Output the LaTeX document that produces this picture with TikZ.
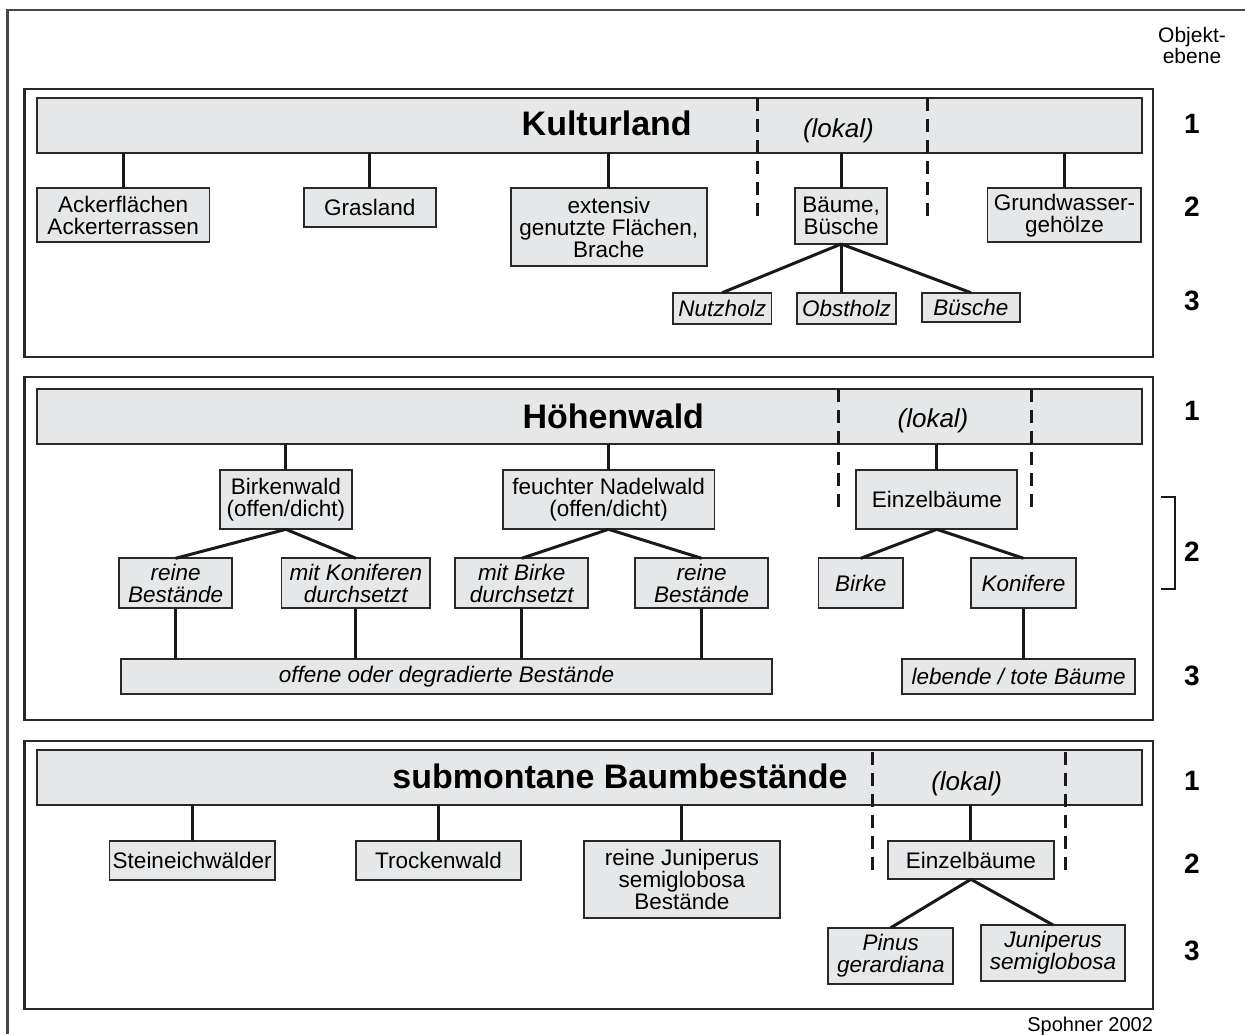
\documentclass[tikz,border=0pt]{standalone}
\usepackage{fontspec}
\setmainfont{Liberation Sans}
\definecolor{boxfill}{RGB}{230,231,232}
\definecolor{linegray}{RGB}{40,40,40}
\definecolor{framegray}{RGB}{70,70,70}
\definecolor{linkcol}{RGB}{25,25,25}
% box given by its corners: name, x1, y1, x2, y2, style, text
\newcommand\bx[7]{%
  \node[#6, minimum width={(#4-#2)*1pt}, minimum height={(#5-#3)*1pt}]
    (#1) at ({(#2+#4)/2},{(#3+#5)/2}) {#7};}
\begin{document}
\begin{tikzpicture}[x=1pt,y=-1pt,
  every node/.style={inner sep=0pt, outer sep=0pt},
  frame/.style={draw=framegray, line width=2.2pt},
  panel/.style={draw=linegray, line width=2.2pt},
  bar/.style={draw=linegray, line width=2.2pt, fill=boxfill},
  box/.style={draw=linegray, line width=1.9pt, fill=boxfill, align=center,
    font=\fontsize{22.5}{22}\selectfont},
  ibox/.style={box, font=\fontsize{22.5}{22}\selectfont\itshape},
  link/.style={draw=linkcol, line width=3pt},
  zone/.style={draw=linkcol, line width=3pt, dash pattern=on 13pt off 8pt},
  title/.style={font=\fontsize{34}{34}\selectfont\bfseries, anchor=base},
  lokal/.style={font=\fontsize{26}{26}\selectfont\itshape, anchor=base},
  level/.style={font=\fontsize{28}{28}\selectfont\bfseries, anchor=base},
  note/.style={font=\fontsize{21}{21}\selectfont, anchor=base},
]
\useasboundingbox (0,0) rectangle (1245,1034);

% outer frame (top and left edge)
\draw[frame] (1245,10) -- (7.5,10) -- (7.5,1034);

% column header
\node[note] (hdA) at (1192,42.7) {Objekt-};
\node[note] (hdB) at (1192,63.3) {ebene};

%---------------- Kulturland ----------------
\bx{p1}{24.5}{89}{1153.3}{356.7}{panel}{}
\bx{bar1}{36.8}{98.3}{1142}{152.7}{bar}{}
\node[title] (t1) at (606.7,135) {Kulturland};
\node[lokal] (lk1) at (838.4,137) {(lokal)};
\draw[zone] (757.5,98.3) -- (757.5,220);
\draw[zone] (927.7,98.3) -- (927.7,220);

\bx{acker}{36.8}{188.3}{209.5}{241.7}{box}{Ackerflächen\\Ackerterrassen}
\bx{gras}{303.6}{188.3}{436}{226.7}{box}{Grasland}
\bx{ext}{510.7}{188.3}{707}{266}{box}{extensiv\\genutzte Flächen,\\Brache}
\bx{baeume}{795.4}{188.3}{887}{244}{box}{Bäume,\\Büsche}
\bx{grund}{987.5}{188.3}{1141.3}{242.3}{box}{Grundwasser-\\gehölze}
\bx{nutz}{673}{292.7}{771.5}{324}{ibox}{Nutzholz}
\bx{obst}{797.4}{292.7}{895.8}{324}{ibox}{Obstholz}
\bx{busch}{922}{292.7}{1019.8}{321.7}{ibox}{Büsche}

\foreach \c in {acker,gras,ext,baeume,grund}
  \draw[link] (\c.north) -- (\c.north |- bar1.south);
\draw[link] (baeume.south) -- (nutz.north);
\draw[link] (baeume.south) -- (baeume.south |- obst.north);
\draw[link] (baeume.south) -- (busch.north);

\node[level] (n11) at (1192,133.3) {1};
\node[level] (n12) at (1192,216.7) {2};
\node[level] (n13) at (1192,310) {3};

%---------------- Höhenwald ----------------
\bx{p2}{24.5}{376.7}{1153.3}{720}{panel}{}
\bx{bar2}{36.8}{389}{1142}{444}{bar}{}
\node[title] (t2) at (613.3,428.3) {Höhenwald};
\node[lokal] (lk2) at (933,427) {(lokal)};
\draw[zone] (838,389) -- (838,511.7);
\draw[zone] (1031.3,389) -- (1031.3,511.7);

\bx{birk}{219.8}{470}{352}{529.3}{box}{Birkenwald\\(offen/dicht)}
\bx{nadel}{502.6}{470}{714.5}{529.3}{box}{feuchter Nadelwald\\(offen/dicht)}
\bx{einz}{856.3}{470}{1017.4}{529.3}{box}{Einzelbäume}
\bx{reinA}{119.4}{558.3}{231.7}{608}{ibox}{reine\\Bestände}
\bx{konif}{281.5}{558.3}{430.2}{608}{ibox}{mit Koniferen\\durchsetzt}
\bx{mbirk}{455.1}{558.3}{588.4}{608}{ibox}{mit Birke\\durchsetzt}
\bx{reinB}{635}{558.3}{768.3}{608}{ibox}{reine\\Bestände}
\bx{birke}{818.5}{558.3}{903}{608}{ibox}{Birke}
\bx{konf}{970.7}{558.3}{1076.4}{608}{ibox}{Konifere}
\bx{offen}{120.6}{659.3}{772.3}{694.3}{ibox}{offene oder degradierte Bestände}
\bx{lebend}{902.2}{659.3}{1135}{694.3}{ibox}{lebende / tote Bäume}

\foreach \c in {birk,nadel,einz}
  \draw[link] (\c.north) -- (\c.north |- bar2.south);
\draw[link] (birk.south) -- (reinA.north);
\draw[link] (birk.south) -- (konif.north);
\draw[link] (nadel.south) -- (mbirk.north);
\draw[link] (nadel.south) -- (reinB.north);
\draw[link] (einz.south) -- (birke.north);
\draw[link] (einz.south) -- (konf.north);
\foreach \c in {reinA,konif,mbirk,reinB}
  \draw[link] (\c.south) -- (\c.south |- offen.north);
\draw[link] (konf.south) -- (konf.south |- lebend.north);

\node[level] (n21) at (1192,420) {1};
\node[level] (n22) at (1192,561.7) {2};
\node[level] (n23) at (1192,685) {3};
\coordinate (brT) at (1161,496.7);
\coordinate (brB) at (1161,589);
\draw[draw=linkcol, line width=1.8pt] (brT) -- ++(14,0) |- (brB);

%---------------- submontane Baumbestände ----------------
\bx{p3}{24.5}{741}{1153.3}{1008.7}{panel}{}
\bx{bar3}{36.8}{750}{1142}{805}{bar}{}
\node[title] (t3) at (620,788) {submontane Baumbestände};
\node[lokal] (lk3) at (966.7,790) {(lokal)};
\draw[zone] (872.7,751.7) -- (872.7,874);
\draw[zone] (1065.6,751.7) -- (1065.6,874);

\bx{stein}{109.5}{840.7}{274.8}{880}{box}{Steineichwälder}
\bx{trock}{355.9}{840.7}{521.2}{880}{box}{Trockenwald}
\bx{junip}{583.6}{840.7}{780.2}{918.3}{box}{reine Juniperus\\semiglobosa\\Bestände}
\bx{einzS}{888.2}{840.7}{1053.6}{879.3}{box}{Einzelbäume}
\bx{pinus}{828.4}{927.7}{953.2}{984}{ibox}{Pinus\\gerardiana}
\bx{jsemi}{980.7}{925}{1125.4}{980.7}{ibox}{Juniperus\\semiglobosa}

\foreach \c in {stein,trock,junip,einzS}
  \draw[link] (\c.north) -- (\c.north |- bar3.south);
\draw[link] (einzS.south) -- (pinus.north);
\draw[link] (einzS.south) -- (jsemi.north);

\node[level] (n31) at (1192,790) {1};
\node[level] (n32) at (1192,873.3) {2};
\node[level] (n33) at (1192,960) {3};

% source line
\node[note, anchor=base east, font=\fontsize{20}{20}\selectfont] (src) at (1153,1031) {Spohner 2002};
\end{tikzpicture}
\end{document}
